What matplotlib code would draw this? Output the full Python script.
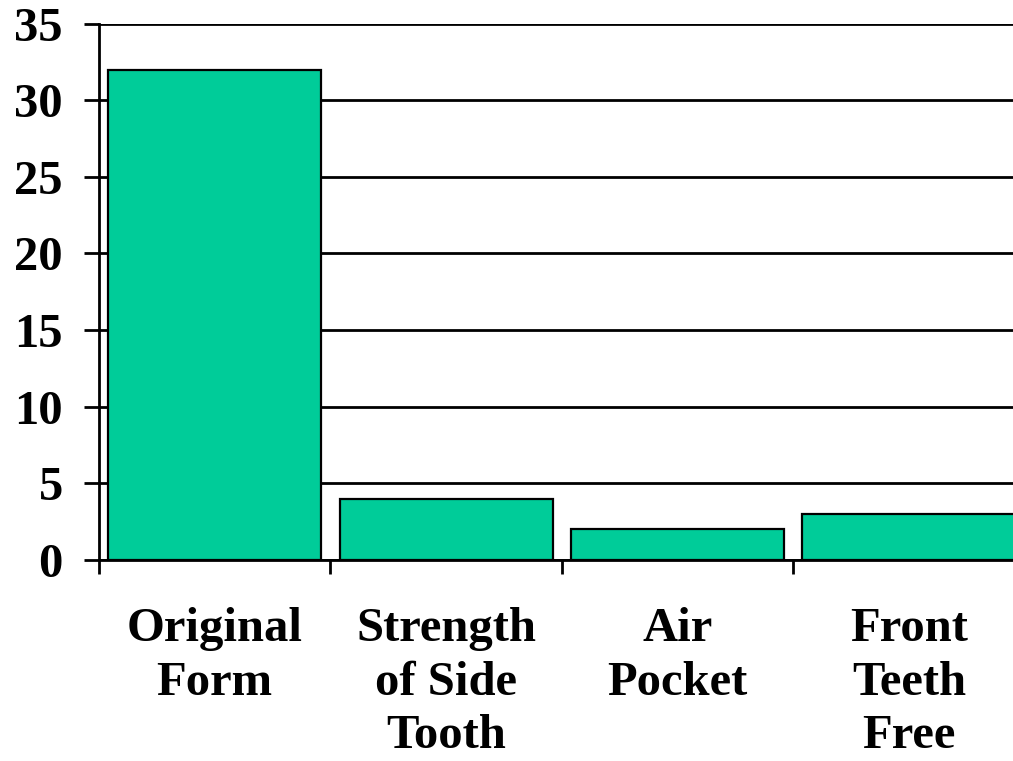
import numpy as np
import matplotlib
matplotlib.use('Agg')
import matplotlib.pyplot as plt

categories = ['Original\nForm', 'Strength\nof Side\nTooth', 'Air\nPocket', 'Front\nTeeth\nFree']
values = [32, 4, 2, 3]

plt.rcParams['font.family'] = ['Liberation Serif', 'DejaVu Serif']
plt.rcParams['font.weight'] = 'bold'

fig = plt.figure(figsize=(10.13, 7.61), dpi=100)
ax = fig.add_axes([0.0977, 0.2641, 1.0 - 0.0977, 0.705])

x = np.arange(len(categories))
ax.bar(x, values, width=0.92, color='#00CC99', edgecolor='black', linewidth=1.6, zorder=3)

ax.set_ylim(0, 35)
ax.set_xlim(-0.5, 3.45)
ax.set_yticks(np.arange(0, 36, 5))
ax.yaxis.grid(True, color='black', linewidth=2.0, zorder=0)
ax.set_axisbelow(True)

for s in ['top', 'right']:
    ax.spines[s].set_visible(False)
ax.spines['left'].set_linewidth(2.0)
ax.spines['bottom'].set_linewidth(2.0)

ax.set_xticks(x)
ax.set_xticklabels(categories, fontsize=35, fontweight='bold', linespacing=1.28)
ax.tick_params(axis='x', which='major', length=0, pad=34)
ax.set_xticks(np.arange(-0.5, 3.0, 1.0), minor=True)
ax.tick_params(axis='x', which='minor', length=10, width=2.0, direction='out')
ax.tick_params(axis='y', length=11, width=2.0, pad=15, labelsize=35)
for lab in ax.get_yticklabels():
    lab.set_fontweight('bold')

fig.savefig('out.png', dpi=100)
